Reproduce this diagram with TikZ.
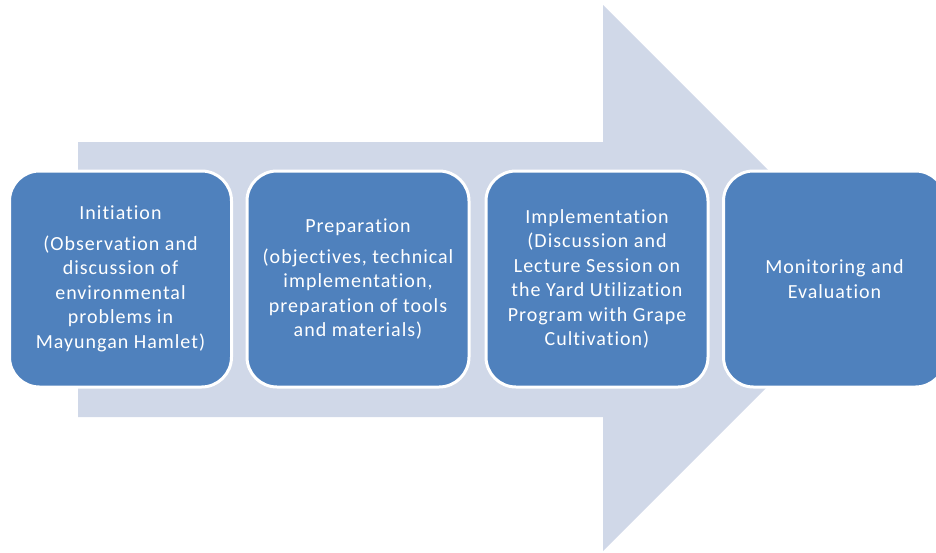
\documentclass[tikz,border=0pt]{standalone}
\usepackage{fontspec}
\setmainfont{Carlito}[Ligatures=NoCommon, LetterSpace=5]
\definecolor{stageblue}{HTML}{4F81BD}
\definecolor{arrowgrey}{HTML}{D0D8E8}
\tikzset{
    stage/.style={draw=white, line width=3pt, fill=stageblue, rounded corners=30pt,
        minimum width=222pt, minimum height=216pt, text=white, align=center,
        inner sep=0pt, font=\fontsize{20}{24.5}\selectfont}
}

\begin{document}
\begin{tikzpicture}[x=1pt,y=-1pt]
    \useasboundingbox (0,0) rectangle (936,552);
    \clip (0,0) rectangle (936,552);

    % Background arrow
    \fill[arrowgrey] (78,142) -- (603,142) -- (603,5) -- (876,278) -- (603,551)
        -- (603,417) -- (78,417) -- cycle;

    % Stages
    \node[stage] (init) at (120.5,279)
        {Initiation\\[6pt] (Observation and\\ discussion of\\ environmental\\ problems in\\ Mayungan Hamlet)};
    \node[stage] (prep) at (358,279)
        {Preparation\\[6pt] (objectives, technical\\ implementation,\\ preparation of tools\\ and materials)};
    \node[stage] (impl) at (597,279)
        {Implementation\\ (Discussion and\\ Lecture Session on\\ the Yard Utilization\\ Program with Grape\\ Cultivation)};
    \node[stage] (moni) at (834.5,279)
        {Monitoring and\\ Evaluation};
\end{tikzpicture}
\end{document}
